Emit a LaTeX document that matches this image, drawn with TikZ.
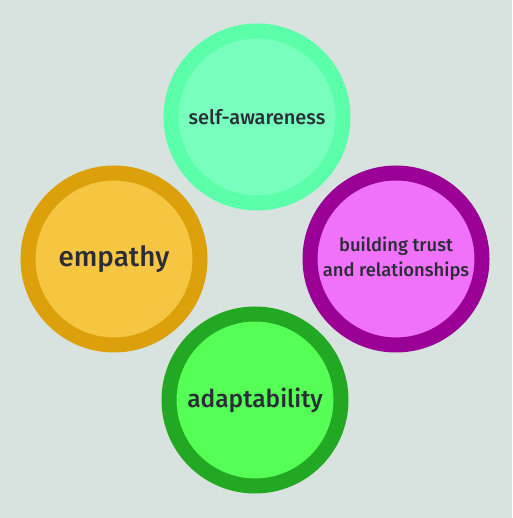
\documentclass[tikz,border=0pt]{standalone}
\usepackage{fontspec}
\setmainfont{Fira Sans}[UprightFont=* Medium]
\usetikzlibrary{positioning}
\definecolor{skillbackground}{HTML}{D8E3DF}
\definecolor{skilltext}{HTML}{2B2D36}
\definecolor{awarenessring}{HTML}{5BFFAA}
\definecolor{awarenessfill}{HTML}{78FFBE}
\definecolor{empathyring}{HTML}{DBA00A}
\definecolor{empathyfill}{HTML}{F6C642}
\definecolor{trustring}{HTML}{9B0096}
\definecolor{trustfill}{HTML}{F072FA}
\definecolor{adaptring}{HTML}{22A822}
\definecolor{adaptfill}{HTML}{55FF55}

\begin{document}
\begin{tikzpicture}[
        x=1pt, y=1pt,
        skillcircle/.style={
            circle,
            line width=15pt,
            minimum size=172pt,
            inner sep=0pt,
            align=center,
            text=skilltext
        }
    ]
        \fill[skillbackground] (0,0) rectangle (512,518);
        \useasboundingbox (0,0) rectangle (512,518);

        \node[skillcircle, draw=awarenessring, fill=awarenessfill,
            font=\fontsize{20}{24}\selectfont] (awareness) at (257,401) {self-awareness};
        \node[skillcircle, draw=empathyring, fill=empathyfill,
            font=\fontsize{27.8}{30}\selectfont] (empathy) at (114,259) {empathy};
        \node[skillcircle, draw=trustring, fill=trustfill,
            font=\fontsize{18.4}{25}\selectfont] (trust) at (396,259) {building trust\\and relationships};
        \node[skillcircle, draw=adaptring, fill=adaptfill,
            font=\fontsize{24.5}{30}\selectfont] (adapt) at (255,118) {adaptability};
    \end{tikzpicture}
\end{document}
